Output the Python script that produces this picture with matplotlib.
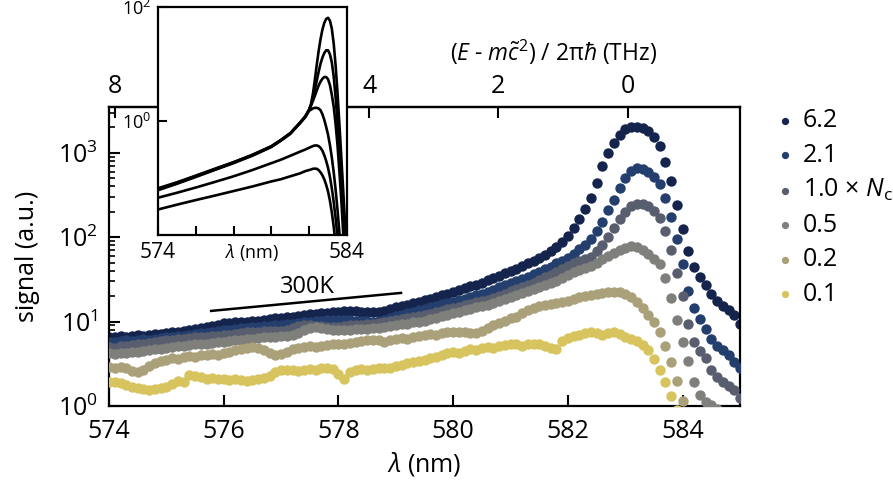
import matplotlib
matplotlib.use("Agg")
import matplotlib.pyplot as plt
from matplotlib.ticker import LogLocator, NullFormatter, NullLocator, FixedLocator

plt.rcParams['font.family'] = ['Open Sans', 'DejaVu Sans']
plt.rcParams['mathtext.fontset'] = 'custom'
plt.rcParams['mathtext.rm'] = 'Open Sans'
plt.rcParams['mathtext.it'] = 'Open Sans:italic'
plt.rcParams['mathtext.bf'] = 'Open Sans:bold'
plt.rcParams['axes.linewidth'] = 1.6

# ---------------- data ----------------
wavelength_nm = [
    574.0, 574.1, 574.2, 574.3, 574.4, 574.5, 574.6, 574.7, 574.8, 574.9,
    575.0, 575.1, 575.2, 575.3, 575.4, 575.5, 575.6, 575.7, 575.8, 575.9,
    576.0, 576.1, 576.2, 576.3, 576.4, 576.5, 576.6, 576.7, 576.8, 576.9,
    577.0, 577.1, 577.2, 577.3, 577.4, 577.5, 577.6, 577.7, 577.8, 577.9,
    578.0, 578.1, 578.2, 578.3, 578.4, 578.5, 578.6, 578.7, 578.8, 578.9,
    579.0, 579.1, 579.2, 579.3, 579.4, 579.5, 579.6, 579.7, 579.8, 579.9,
    580.0, 580.1, 580.2, 580.3, 580.4, 580.5, 580.6, 580.7, 580.8, 580.9,
    581.0, 581.1, 581.2, 581.3, 581.4, 581.5, 581.6, 581.7, 581.8, 581.9,
    582.0, 582.1, 582.2, 582.3, 582.4, 582.5, 582.6, 582.7, 582.8, 582.9,
    583.0, 583.1, 583.2, 583.3, 583.4, 583.5, 583.6, 583.7, 583.8, 583.9,
    584.0, 584.1, 584.2, 584.3, 584.4, 584.5, 584.6, 584.7, 584.8, 584.9,
    585.0]

signal_6p2 = [
    6.6, 6.5, 6.7, 6.6, 6.8, 6.9, 6.8, 7.0, 7.2, 7.1,
    7.4, 7.6, 7.5, 7.8, 8.0, 8.2, 8.4, 8.7, 8.9, 9.2,
    9.6, 9.7, 9.9, 9.8, 10.0, 10.1, 10.3, 10.5, 10.7, 10.9,
    11.0, 11.2, 11.5, 11.7, 11.9, 12.2, 12.4, 12.6, 12.8, 13.0,
    13.1, 13.3, 13.2, 13.3, 13.1, 13.0, 12.9, 12.9, 13.4, 14.1,
    14.8, 15.3, 15.9, 16.5, 17.3, 18.0, 18.8, 19.6, 20.5, 21.5,
    22.7, 23.8, 25.0, 26.2, 27.5, 29.0, 31.0, 33.0, 35.0, 37.5,
    40.0, 42.5, 45.5, 49.0, 53.0, 57.0, 62.0, 68.0, 76.0, 88.0,
    104, 128, 165, 215, 290, 440, 700, 1000, 1300, 1650,
    1900, 2050, 2050, 1950, 1800, 1550, 1200, 780, 460, 240,
    125, 68, 45, 34, 27, 21, 17.5, 15.5, 13.8, 12.0,
    9.3]

signal_2p1 = [
    5.8, 5.7, 5.9, 6.0, 5.9, 6.1, 6.2, 6.1, 6.3, 6.4,
    6.5, 6.6, 6.7, 6.8, 7.0, 7.1, 7.3, 7.4, 7.6, 7.7,
    7.9, 8.0, 8.2, 8.3, 8.4, 8.6, 8.7, 8.8, 8.9, 9.0,
    9.1, 9.3, 9.5, 9.7, 9.9, 10.0, 10.2, 10.3, 10.4, 10.5,
    10.5, 10.6, 10.4, 10.3, 10.2, 10.1, 10.0, 10.1, 10.4, 11.0,
    11.6, 12.1, 12.6, 13.0, 13.6, 14.2, 14.8, 15.4, 16.0, 16.6,
    17.3, 18.0, 18.8, 19.6, 20.5, 21.5, 22.5, 24.0, 25.5, 27.0,
    28.5, 30.0, 32.0, 34.0, 36.5, 39.0, 42.0, 45.0, 49.0, 53.0,
    57, 63, 72, 82, 95, 118, 152, 210, 280, 380,
    500, 610, 660, 640, 590, 520, 430, 290, 175, 95,
    48, 23, 14.5, 10.8, 8.1, 6.3, 5.1, 4.6, 4.0, 3.3,
    2.8]

signal_1p0 = [
    5.0, 4.9, 5.1, 5.2, 5.3, 5.5, 5.4, 5.6, 5.8, 5.9,
    6.0, 6.1, 6.2, 6.3, 6.4, 6.5, 6.6, 6.6, 6.7, 6.8,
    6.9, 7.0, 7.2, 7.3, 7.5, 7.6, 7.6, 7.7, 7.7, 7.8,
    7.8, 7.9, 8.3, 8.8, 9.1, 9.0, 8.9, 8.8, 8.7, 8.7,
    8.7, 8.8, 9.0, 9.1, 9.2, 9.4, 9.5, 9.6, 9.8, 10.1,
    10.4, 10.7, 11.0, 11.3, 11.6, 12.0, 12.4, 12.9, 13.4, 14.0,
    14.5, 15.1, 15.7, 16.3, 17.0, 17.5, 18.2, 19.2, 20.3, 21.5,
    22.8, 24.2, 25.6, 27.2, 29.0, 31.0, 33.5, 36.0, 39.0, 42.0,
    45.5, 49.0, 53.0, 55.0, 58.0, 68, 80, 102, 128, 165,
    200, 235, 250, 245, 232, 205, 170, 118, 70, 38,
    20, 9.5, 5.8, 4.5, 3.7, 2.7, 2.2, 1.95, 1.75, 1.55,
    1.25]

signal_0p5 = [
    4.2, 4.1, 4.3, 4.2, 4.4, 4.4, 4.5, 4.6, 4.7, 4.8,
    4.9, 5.0, 5.1, 5.2, 5.3, 5.4, 5.5, 5.5, 5.6, 5.7,
    5.8, 5.9, 6.0, 6.1, 6.2, 6.3, 6.4, 6.5, 6.5, 6.6,
    6.7, 6.8, 7.0, 7.4, 7.9, 8.5, 8.7, 8.4, 8.1, 8.0,
    7.9, 7.9, 8.0, 8.1, 8.1, 8.2, 8.3, 8.4, 8.6, 8.8,
    9.1, 9.3, 9.5, 9.8, 10.0, 10.3, 10.7, 11.1, 11.6, 12.1,
    12.6, 13.0, 13.6, 14.2, 14.8, 15.3, 15.8, 16.6, 17.6, 18.6,
    19.5, 20.5, 21.6, 22.8, 24.1, 25.5, 27.0, 28.8, 30.5, 33.0,
    35.5, 38.5, 41.0, 43.5, 46.0, 50.0, 55, 60, 65, 70,
    74, 78, 76, 71, 63, 56, 48, 33, 19, 10.5,
    5.8, 3.4, 1.9, 1.35, 1.12, 1.02, 0.93, 0.85, 0.8, 0.75,
    0.7]

signal_0p2 = [
    2.9, 2.8, 2.9, 2.8, 2.6, 2.5, 2.7, 3.0, 3.2, 3.4,
    3.5, 3.7, 3.6, 3.8, 3.9, 3.8, 4.0, 4.0, 4.1, 4.0,
    4.2, 4.4, 4.6, 4.8, 4.9, 5.0, 4.9, 4.6, 4.2, 4.0,
    4.1, 4.4, 4.7, 4.9, 5.0, 5.1, 5.0, 5.2, 5.3, 5.4,
    5.5, 5.4, 5.6, 5.7, 5.9, 6.0, 6.1, 6.0, 5.8, 6.0,
    6.2, 6.4, 6.3, 6.6, 6.8, 6.9, 7.1, 7.0, 7.3, 7.5,
    7.6, 7.5, 7.6, 7.4, 7.3, 7.7, 8.3, 9.0, 9.6, 10.3,
    10.9, 11.5, 12.5, 13.6, 14.6, 15.2, 15.7, 16.4, 16.8, 17.2,
    17.8, 18.6, 19.4, 20.0, 20.6, 21.2, 21.8, 22.3, 22.7, 22.2,
    21.2, 19.5, 17.2, 14.6, 12.0, 9.8, 7.6, 5.2, 3.3, 2.0,
    1.15, 0.8, 0.6, 0.5, 0.45, 0.42, 0.4, 0.38, 0.36, 0.35,
    0.34]

signal_0p1 = [
    1.95, 1.9, 1.85, 1.78, 1.7, 1.62, 1.58, 1.55, 1.58, 1.62,
    1.7, 1.8, 2.0, 1.9, 2.3, 2.25, 2.2, 2.1, 2.15, 2.1,
    2.1, 2.05, 2.1, 2.05, 2.0, 2.05, 2.1, 2.15, 2.25, 2.5,
    2.7, 2.65, 2.7, 2.6, 2.7, 2.75, 2.7, 2.8, 2.8, 2.75,
    2.4, 2.1, 2.55, 2.7, 2.75, 2.7, 2.75, 2.8, 2.8, 2.85,
    3.0, 3.1, 3.2, 3.3, 3.4, 3.55, 3.7, 3.85, 4.0, 4.2,
    4.4, 4.3, 4.5, 4.7, 4.6, 4.9, 5.0, 4.9, 5.2, 5.3,
    5.4, 5.4, 5.2, 5.5, 5.4, 5.4, 5.2, 4.9, 4.8, 5.9,
    6.4, 6.8, 7.0, 7.4, 7.6, 7.3, 7.0, 7.3, 7.6, 7.2,
    6.6, 6.3, 5.9, 5.3, 4.6, 3.6, 2.7, 1.9, 1.3, 0.9,
    0.7, 0.6, 0.55, 0.5, 0.48, 0.46, 0.44, 0.42, 0.4, 0.38,
    0.36]

series_labels = ['6.2', '2.1', '1.0 × $N_\\mathrm{c}$', '0.5', '0.2', '0.1']
series_colors = ['#14244d', '#243f6e', '#595e6e', '#7f7f7b', '#aaa079', '#d7c45f']

# 300 K guide line
guide_lambda = [575.78, 579.09]
guide_signal = [13.4, 21.9]
guide_text_pos = (577.45, 26.0)

# top-axis conversion (wavelength -> frequency detuning)
C_NM_THZ = 299792.458
LAMBDA0_NM = 583.04
top_ticks = [8, 6, 4, 2, 0]

# inset theory curves
inset_lambda = [574.0, 575.0, 576.0, 577.0, 578.0, 579.0, 580.0, 580.5, 581.0, 581.5, 581.8,
                582.0, 582.1, 582.2, 582.3, 582.4, 582.5, 582.6, 582.7, 582.8, 582.9,
                583.0, 583.1, 583.2, 583.3, 583.4, 583.5, 583.6, 583.7, 583.8, 583.9, 584.0]
inset_c1 = [0.066, 0.084, 0.110, 0.145, 0.190, 0.256, 0.362, 0.465, 0.612, 0.925, 1.22,
            1.58, 2.0, 3.0, 5.2, 9.5, 16.6, 26.9, 39.8, 52.5, 61.7,
            64.6, 57.5, 41.7, 22.9, 9.5, 3.16, 0.89, 0.24, 0.063, 0.0158, 0.004]
inset_c2 = [0.064, 0.082, 0.108, 0.142, 0.187, 0.252, 0.357, 0.459, 0.605, 0.915, 1.20,
            1.58, 1.91, 2.51, 3.55, 5.0, 7.2, 10.0, 12.9, 15.5, 17.4,
            17.4, 14.8, 10.7, 6.0, 2.63, 0.955, 0.30, 0.089, 0.025, 0.0071, 0.002]
inset_c3 = [0.063, 0.081, 0.107, 0.141, 0.186, 0.251, 0.355, 0.457, 0.603, 0.912, 1.19,
            1.58, 1.86, 2.24, 2.75, 3.39, 4.17, 4.9, 5.5, 5.9, 5.9,
            5.4, 4.27, 2.88, 1.78, 0.89, 0.38, 0.132, 0.042, 0.0112, 0.0032, 0.0008]
inset_c4 = [0.061, 0.079, 0.104, 0.138, 0.182, 0.246, 0.349, 0.449, 0.593, 0.898, 1.17,
            1.51, 1.58, 1.66, 1.70, 1.70, 1.66, 1.55, 1.32, 1.05, 0.79,
            0.575, 0.38, 0.229, 0.126, 0.063, 0.028, 0.0112, 0.004, 0.0013, 0.0004, 0.00013]
inset_c5 = [0.045, 0.055, 0.068, 0.085, 0.107, 0.138, 0.182, 0.209, 0.245, 0.288, 0.316,
            0.339, 0.351, 0.363, 0.372, 0.372, 0.363, 0.339, 0.302, 0.251, 0.2,
            0.151, 0.105, 0.066, 0.038, 0.02, 0.0095, 0.004, 0.0016, 0.0006, 0.00025, 0.0001]
inset_c6 = [0.028, 0.034, 0.041, 0.049, 0.059, 0.071, 0.087, 0.095, 0.107, 0.12, 0.132,
            0.138, 0.141, 0.145, 0.146, 0.145, 0.138, 0.126, 0.112, 0.095, 0.076,
            0.058, 0.04, 0.025, 0.014, 0.007, 0.0032, 0.0013, 0.0005, 0.0002, 0.00008, 0.00003]

# ---------------- figure ----------------
fig = plt.figure(figsize=(8.93, 4.91), dpi=100)
ax = fig.add_axes([0.1221, 0.1731, 0.7066, 0.609])

series = [signal_6p2, signal_2p1, signal_1p0, signal_0p5, signal_0p2, signal_0p1]
handles = []
for i, (vals, col, lab) in enumerate(zip(series, series_colors, series_labels)):
    h = ax.scatter(wavelength_nm, vals, s=56, color=col, linewidths=0,
                   label=lab, zorder=2 + i)
    handles.append(h)

ax.plot(guide_lambda, guide_signal, color='black', lw=1.8, zorder=10)
ax.text(guide_text_pos[0], guide_text_pos[1], '300K', ha='center', va='center',
        fontsize=17, zorder=10)

ax.set_yscale('log')
ax.set_xlim(574, 585)
ax.set_ylim(1, 3500)
ax.set_xticks([574, 576, 578, 580, 582, 584])
ax.yaxis.set_major_locator(LogLocator(base=10, numticks=10))
ax.yaxis.set_minor_locator(LogLocator(base=10, subs=[2, 3, 4, 5, 6, 7, 8, 9], numticks=10))
ax.yaxis.set_minor_formatter(NullFormatter())
ax.tick_params(axis='both', which='major', direction='in', length=8, width=1.5,
               labelsize=18, top=False, right=False)
ax.tick_params(axis='x', which='major', pad=9)
ax.tick_params(axis='y', which='major', pad=8)
ax.tick_params(axis='y', which='minor', direction='in', length=4.5, width=1.2, right=False)
ax.set_xlabel(r'$\lambda$ (nm)', fontsize=18, labelpad=5)
ax.set_ylabel('signal (a.u.)', fontsize=18, labelpad=13)

sec = ax.secondary_xaxis('top', functions=(lambda lam: C_NM_THZ / lam - C_NM_THZ / LAMBDA0_NM,
                                           lambda f: C_NM_THZ / (f + C_NM_THZ / LAMBDA0_NM)))
sec.xaxis.set_major_locator(FixedLocator(top_ticks))
sec.xaxis.set_minor_locator(NullLocator())
sec.tick_params(axis='x', direction='in', length=8, width=1.5, labelsize=18, pad=6)
sec.set_xlabel(r'($E$ - $m\tilde{c}^2$) / 2π$\hbar$ (THz)', fontsize=16.5, labelpad=9)
sec.xaxis.label.set_x(0.705)

fig.legend(handles=handles, labels=series_labels, loc='upper left',
           bbox_to_anchor=(0.857, 0.8), frameon=False, fontsize=18,
           markerscale=0.7, handlelength=0.8, handletextpad=0.3,
           labelspacing=0.38, borderaxespad=0)

# inset
axi = fig.add_axes([0.1769, 0.5214, 0.2116, 0.4644])
axi.set_zorder(20)
axi.patch.set_facecolor('white')
for vals in [inset_c1, inset_c2, inset_c3, inset_c4, inset_c5, inset_c6]:
    axi.plot(inset_lambda, vals, color='black', lw=1.9, solid_joinstyle='round')
axi.set_yscale('log')
axi.set_xlim(574, 584)
axi.set_ylim(1e-2, 1e2)
axi.yaxis.set_major_locator(FixedLocator([1, 100]))
axi.yaxis.set_minor_locator(NullLocator())
axi.set_xticks([574, 576, 578, 580, 582, 584])
axi.set_xticklabels(['574', '', '', '', '', '584'])
axi.tick_params(axis='both', which='major', direction='in', length=6.5, width=1.5, pad=5)
axi.tick_params(axis='x', labelsize=15)
axi.tick_params(axis='y', labelsize=13)
axi.set_xlabel(r'$\lambda$ (nm)', fontsize=13)
axi.xaxis.set_label_coords(0.5, -0.03)

fig.savefig('out.png', dpi=100)
